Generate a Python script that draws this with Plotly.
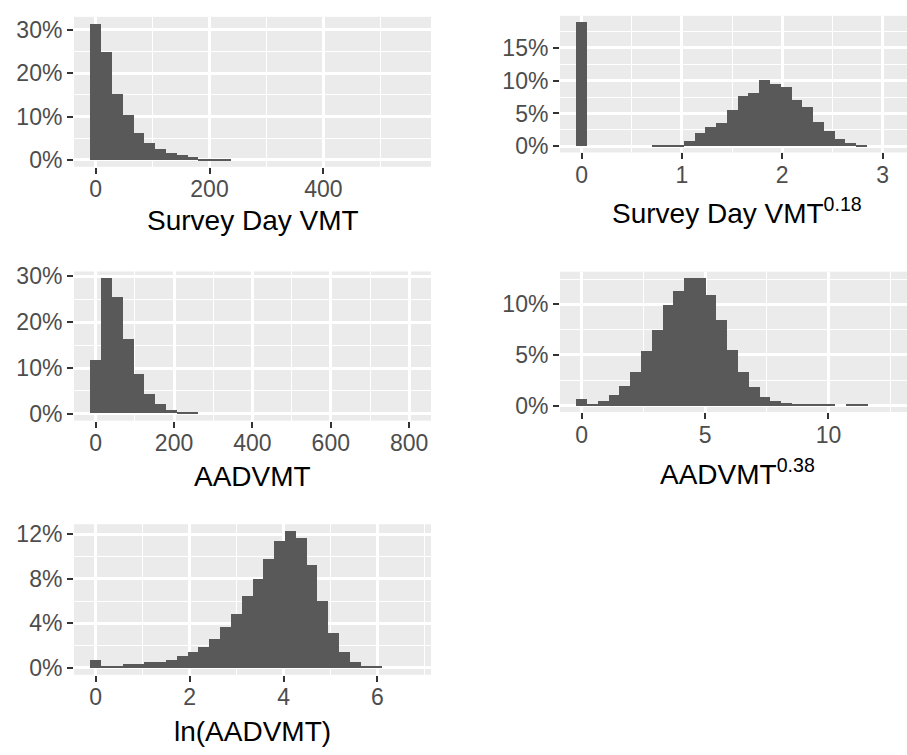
import numpy as np
import plotly.graph_objects as go

# Histogram bin heights (percent of observations), bins centred on multiples of the bin width
svmt_binwidth = 19.0
svmt_pct = [31.4, 25.0, 15.3, 10.4, 6.24, 4.06, 2.56, 1.65, 1.13, 0.68, 0.3, 0.3, 0.3]

svmt018_binwidth = 0.1073
svmt018_pct = [18.95, 0, 0, 0, 0, 0, 0, 0.15, 0.15, 0.2, 0.8, 2.0, 2.9, 3.5, 5.6, 7.7,
               8.1, 10.2, 9.6, 9.0, 7.1, 6.0, 3.8, 2.3, 1.1, 0.55, 0.25]

aadvmt_binwidth = 27.6
aadvmt_pct = [11.66, 29.6, 25.3, 16.3, 8.5, 4.2, 2.1, 0.8, 0.35, 0.35]

aadvmt038_binwidth = 0.437
aadvmt038_pct = [0.7, 0.1, 0.5, 1.06, 2.0, 3.4, 5.4, 7.5, 10.0, 11.4, 12.6, 12.6, 11.0, 8.5,
                 5.55, 3.4, 1.87, 0.87, 0.48, 0.26, 0.1, 0.1, 0.1, 0.1, 0.0, 0.1, 0.1]

ln_binwidth = 0.2303
ln_pct = [0.68, 0.1, 0.1, 0.3, 0.3, 0.47, 0.47, 0.7, 1.03, 1.4, 1.9, 2.6, 3.7, 4.8, 6.4,
          8.0, 9.8, 11.4, 12.3, 11.7, 9.2, 6.0, 3.15, 1.4, 0.5, 0.1, 0.1]

W, H = 907, 755
BAR = "#595959"
PANEL_BG = "#EBEBEB"
FONT = "Liberation Sans, Arial, Helvetica, sans-serif"

# panel specs: values, bin width, x range, x ticks, x minor step, y ticks, y minor step,
# pixel box (left, right, top, bottom), title, title centre y (px)
panels = [
    dict(pct=svmt_pct, bw=svmt_binwidth, xr=[-38, 589], xdt=200, xmin=100,
         ydt=10, ymin=5, box=(74, 431, 9, 162),
         title="Survey Day VMT", ty=217),
    dict(pct=svmt018_pct, bw=svmt018_binwidth, xr=[-0.2146, 3.243], xdt=1, xmin=0.5,
         ydt=5, ymin=2.5, box=(560, 907, 8, 147.4),
         title="Survey Day VMT<sup>0.18</sup>", ty=207, tx=737),
    dict(pct=aadvmt_pct, bw=aadvmt_binwidth, xr=[-55.2, 855.6], xdt=200, xmin=100,
         ydt=10, ymin=5, box=(74, 431, 268.8, 421),
         title="AADVMT", ty=478),
    dict(pct=aadvmt038_pct, bw=aadvmt038_binwidth, xr=[-0.874, 13.18], xdt=5, xmin=2.5,
         ydt=5, ymin=2.5, box=(560, 907, 269, 412.2),
         title="AADVMT<sup>0.38</sup>", ty=473, tx=737),
    dict(pct=ln_pct, bw=ln_binwidth, xr=[-0.4606, 7.139], xdt=2, xmin=1,
         ydt=4, ymin=2, box=(74, 431, 526.7, 680.3),
         title="ln(AADVMT)", ty=738),
]

fig = go.Figure()
layout = dict(
    width=W, height=H, margin=dict(l=0, r=0, t=0, b=0),
    paper_bgcolor="white", plot_bgcolor=PANEL_BG, showlegend=False,
    bargap=0, barmode="overlay",
    font=dict(family=FONT, color="#4D4D4D", size=23),
    annotations=[],
)

for i, p in enumerate(panels, start=1):
    xa = "x" if i == 1 else f"x{i}"
    ya = "y" if i == 1 else f"y{i}"
    pct = np.array(p["pct"], dtype=float)
    centres = np.arange(len(pct)) * p["bw"]
    fig.add_trace(go.Bar(
        x=centres, y=pct, width=p["bw"], xaxis=xa, yaxis=ya,
        marker=dict(color=BAR, line=dict(width=0)), hoverinfo="skip",
    ))
    l, r, t, b = p["box"]
    ymax = pct.max()
    common = dict(
        showline=False, zeroline=False, showgrid=True, gridcolor="white", gridwidth=2.5,
        ticks="outside", ticklen=6, tickwidth=2, tickcolor="#333333",
        tickfont=dict(family=FONT, size=23, color="#4D4D4D"),
        layer="below traces",
    )
    layout[f"xaxis{i}"] = dict(
        common, domain=[l / W, r / W], range=p["xr"], anchor=ya,
        tick0=0, dtick=p["xdt"], ticklabelstandoff=-4,
        minor=dict(tick0=0, dtick=p["xmin"], showgrid=True, gridcolor="white", gridwidth=1.2),
    )
    layout[f"yaxis{i}"] = dict(
        common, domain=[1 - b / H, 1 - t / H], range=[-0.05 * ymax, 1.05 * ymax], anchor=xa,
        tick0=0, dtick=p["ydt"], ticksuffix="%",
        minor=dict(tick0=0, dtick=p["ymin"], showgrid=True, gridcolor="white", gridwidth=1.2),
    )
    cx = p.get("tx", (l + r) / 2)
    layout["annotations"].append(dict(
        text=p["title"], xref="paper", yref="paper", x=cx / W, y=1 - p["ty"] / H,
        xanchor="center", yanchor="middle", showarrow=False,
        font=dict(family=FONT, size=28, color="black"),
    ))

fig.update_layout(**layout)
fig.write_html("out.html")
